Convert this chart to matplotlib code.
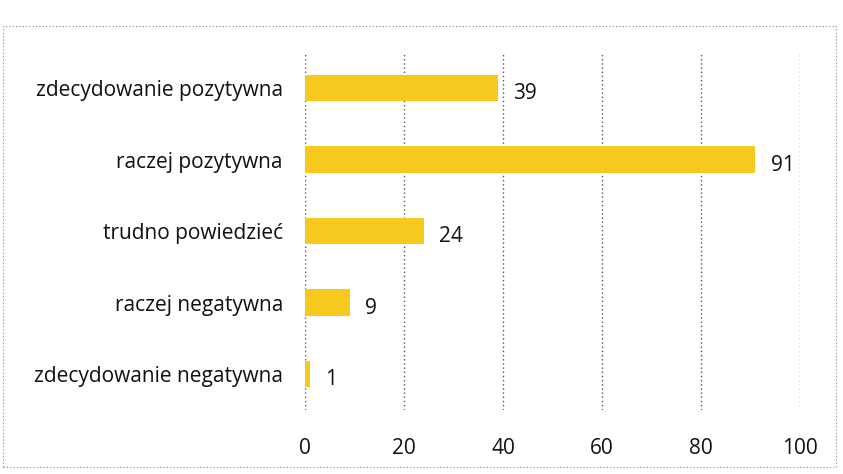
import matplotlib
matplotlib.use('Agg')
from matplotlib import pyplot as plt
from matplotlib.patches import Rectangle

# data
kategorie = ["zdecydowanie pozytywna", "raczej pozytywna", "trudno powiedzieć",
             "raczej negatywna", "zdecydowanie negatywna"]
wartosci = [39, 91, 24, 9, 1]
ticks_x = [0, 20, 40, 60, 80, 100]

plt.rcParams['font.family'] = ['Open Sans', 'DejaVu Sans']

fig = plt.figure(figsize=(8.43, 4.74), dpi=100)
ax = fig.add_axes([0.362, 0.135, 0.587, 0.755])

y = list(range(len(kategorie)))
ax.barh(y, wartosci, height=0.37, color='#F7C81E', zorder=2)

for yi, v in zip(y, wartosci):
    ax.annotate(str(v), (v, yi), xytext=(11, -4), textcoords='offset points',
                va='center', ha='left', fontsize=15, color='#111111')

ax.set_ylim(len(kategorie) - 0.5, -0.5)
ax.set_xlim(0, 100)
ax.set_xticks(ticks_x)
ax.set_yticks(y)
ax.set_yticklabels(kategorie)
ax.tick_params(axis='both', length=0, labelsize=15, colors='#111111')
ax.tick_params(axis='x', pad=20)
ax.tick_params(axis='y', pad=16)

ax.grid(axis='x', linestyle=(0, (1, 2)), color='#555555', linewidth=1, zorder=1)
for s in ax.spines.values():
    s.set_visible(False)

# dotted frame of the chart
fig.patches.append(Rectangle((0.004, 0.015), 0.988, 0.93, transform=fig.transFigure,
                             fill=False, linestyle=(0, (1, 2)), edgecolor='#888888',
                             linewidth=0.8))

plt.savefig('out.png', dpi=100)
